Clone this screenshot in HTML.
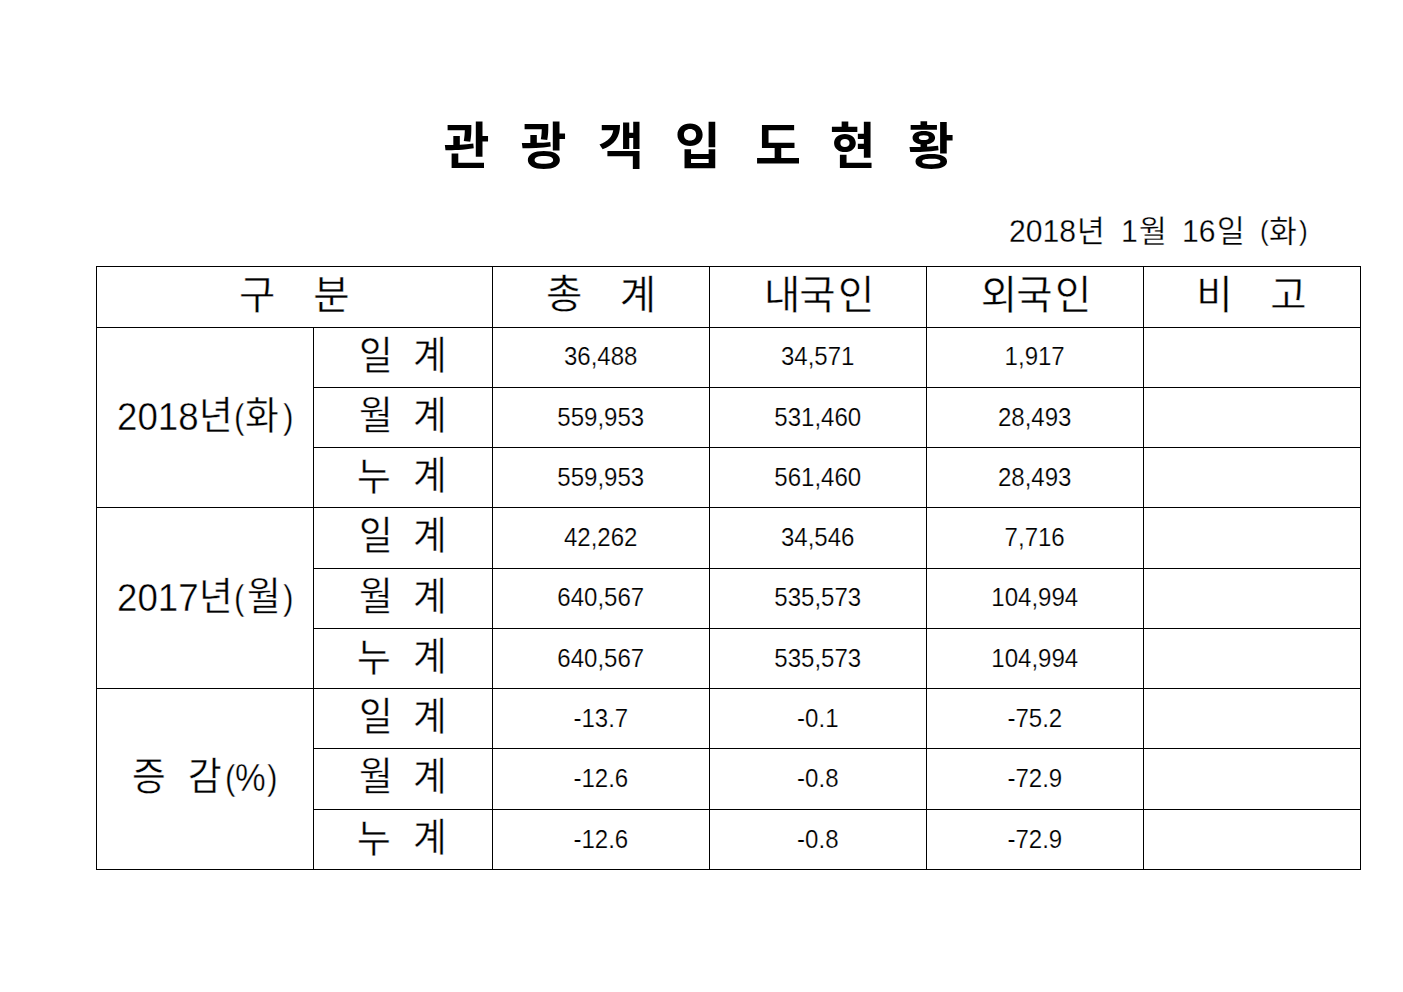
<!DOCTYPE html>
<html lang="ko"><head><meta charset="utf-8"><title>관광객 입도현황</title>
<style>
html,body{margin:0;padding:0;background:#fff}
body{position:relative;width:1403px;height:992px;overflow:hidden;font-family:"Liberation Sans","Noto Sans CJK KR",sans-serif;color:#000}
.t{position:absolute;display:block;white-space:nowrap;line-height:1;color:#000;transform-origin:0 0}
.dt{font-size:31.1px;transform:scaleX(0.97);-webkit-text-stroke:0.3px #fff}
.dp{font-size:27.6px;transform:scaleX(0.95);-webkit-text-stroke:0.3px #fff}
.lb{font-size:38.6px;transform:scaleX(0.95);-webkit-text-stroke:0.4px #fff}
.lp{font-size:35.1px;transform:scaleX(0.9);-webkit-text-stroke:0.4px #fff}
.pc{font-size:37.9px;transform:scaleX(0.91);-webkit-text-stroke:0.4px #fff}
.hd{font-size:39.5px;-webkit-text-stroke:0.4px #fff}
.tt{font-size:50px;font-weight:bold}
h1{position:absolute;left:0;top:0;margin:0;width:1403px;height:200px;font-size:52px;font-weight:bold}
.date{position:absolute;left:0;top:0;width:1403px;height:260px}
table{position:absolute;left:96px;top:266px;border-collapse:separate;border-spacing:0;border-top:1px solid #000;border-left:1px solid #000;table-layout:fixed;width:1265px}
th,td{position:relative;box-sizing:border-box;padding:0;margin:0;border-right:1px solid #000;border-bottom:1px solid #000;font-weight:normal;overflow:visible}
tr.r61>*{height:61px} tr.r60>*{height:60px}
td.n{-webkit-text-stroke:0.2px #fff;text-align:center;vertical-align:top;font-size:25.3px;line-height:1;color:#000}
td.n span{display:inline-block;transform:scaleX(0.95);transform-origin:50% 0}
col.a{width:217px} col.b{width:179px}
</style></head>
<body>
<h1 aria-label="관광객입도현황"><span class="t tt" style="left:443.5px;top:121.5px">관</span><span class="t tt" style="left:520.5px;top:121.5px">광</span><span class="t tt" style="left:598.1px;top:121.5px">객</span><span class="t tt" style="left:674.8px;top:121.5px">입</span><span class="t tt" style="left:754.9px;top:121.5px">도</span><span class="t tt" style="left:829.7px;top:121.5px">현</span><span class="t tt" style="left:908.1px;top:121.5px">황</span></h1>
<div class="date" aria-label="2018년 1월 16일 (화)"><span class="t dt" style="left:1009.19px;top:215.67px">2018</span><span class="t dt" style="left:1076.7px;top:215.67px">년</span><span class="t dt" style="left:1120.71px;top:215.67px">1</span><span class="t dt" style="left:1138.5px;top:215.67px">월</span><span class="t dt" style="left:1182.31px;top:215.67px">16</span><span class="t dt" style="left:1217.35px;top:215.67px">일</span><span class="t dp" style="left:1260.42px;top:216.84px">(</span><span class="t dt" style="left:1269.3px;top:215.9px">화</span><span class="t dp" style="left:1298.74px;top:216.84px">)</span></div>
<table>
<colgroup><col class="a"><col class="b"><col class="a"><col class="a"><col class="a"><col class="a"></colgroup>
<tr class="r61"><th colspan="2"><span class="t hd" style="left:141.9px;top:8.6px">구</span><span class="t hd" style="left:216.25px;top:8.6px">분</span></th><th><span class="t hd" style="left:53.1px;top:8.2px">총</span><span class="t hd" style="left:126.7px;top:8.6px">계</span></th><th><span class="t hd" style="left:54px;top:8.6px">내</span><span class="t hd" style="left:89.3px;top:8.6px">국</span><span class="t hd" style="left:128px;top:8.6px">인</span></th><th><span class="t hd" style="left:53.7px;top:8.6px">외</span><span class="t hd" style="left:89.3px;top:8.6px">국</span><span class="t hd" style="left:128px;top:8.6px">인</span></th><th><span class="t hd" style="left:52.3px;top:8.6px">비</span><span class="t hd" style="left:126.2px;top:8.6px">고</span></th></tr>
<tr class="r60"><th rowspan="3" class="yl"><span class="t lb" style="left:20.02px;top:70.33px">2018</span><span class="t lb" style="left:102.06px;top:69.2px">년</span><span class="t lp" style="left:137.34px;top:70.79px">(</span><span class="t lb" style="left:148.2px;top:69.2px">화</span><span class="t lp" style="left:185.71px;top:70.79px">)</span></th><th class="sl"><span class="t lb" style="left:45.05px;top:9.2px">일</span><span class="t lb" style="left:98.8px;top:9.2px">계</span></th><td class="n" style="padding-top:15.58px"><span>36,488</span></td><td class="n" style="padding-top:15.58px"><span>34,571</span></td><td class="n" style="padding-top:15.58px"><span>1,917</span></td><td></td></tr>
<tr class="r60"><th class="sl"><span class="t lb" style="left:44.66px;top:9.2px">월</span><span class="t lb" style="left:98.8px;top:9.2px">계</span></th><td class="n" style="padding-top:16.58px"><span>559,953</span></td><td class="n" style="padding-top:16.58px"><span>531,460</span></td><td class="n" style="padding-top:16.58px"><span>28,493</span></td><td></td></tr>
<tr class="r60"><th class="sl"><span class="t lb" style="left:43.2px;top:9.5px">누</span><span class="t lb" style="left:98.8px;top:9.2px">계</span></th><td class="n" style="padding-top:16.58px"><span>559,953</span></td><td class="n" style="padding-top:16.58px"><span>561,460</span></td><td class="n" style="padding-top:16.58px"><span>28,493</span></td><td></td></tr>
<tr class="r61"><th rowspan="3" class="yl"><span class="t lb" style="left:20.02px;top:71.33px">2017</span><span class="t lb" style="left:102.06px;top:70.2px">년</span><span class="t lp" style="left:137.34px;top:71.79px">(</span><span class="t lb" style="left:149.6px;top:70.2px">월</span><span class="t lp" style="left:185.71px;top:71.79px">)</span></th><th class="sl"><span class="t lb" style="left:45.05px;top:9.2px">일</span><span class="t lb" style="left:98.8px;top:9.2px">계</span></th><td class="n" style="padding-top:16.58px"><span>42,262</span></td><td class="n" style="padding-top:16.58px"><span>34,546</span></td><td class="n" style="padding-top:16.58px"><span>7,716</span></td><td></td></tr>
<tr class="r60"><th class="sl"><span class="t lb" style="left:44.66px;top:9.2px">월</span><span class="t lb" style="left:98.8px;top:9.2px">계</span></th><td class="n" style="padding-top:15.58px"><span>640,567</span></td><td class="n" style="padding-top:15.58px"><span>535,573</span></td><td class="n" style="padding-top:15.58px"><span>104,994</span></td><td></td></tr>
<tr class="r60"><th class="sl"><span class="t lb" style="left:43.2px;top:9.5px">누</span><span class="t lb" style="left:98.8px;top:9.2px">계</span></th><td class="n" style="padding-top:16.58px"><span>640,567</span></td><td class="n" style="padding-top:16.58px"><span>535,573</span></td><td class="n" style="padding-top:16.58px"><span>104,994</span></td><td></td></tr>
<tr class="r60"><th rowspan="3" class="yl"><span class="t lb" style="left:35.3px;top:68.8px">증</span><span class="t lb" style="left:90.9px;top:68.8px">감</span><span class="t lp" style="left:127.84px;top:70.79px">(</span><span class="t pc" style="left:138.47px;top:71.42px">%</span><span class="t lp" style="left:170.01px;top:70.79px">)</span></th><th class="sl"><span class="t lb" style="left:45.05px;top:9.2px">일</span><span class="t lb" style="left:98.8px;top:9.2px">계</span></th><td class="n" style="padding-top:16.58px"><span>-13.7</span></td><td class="n" style="padding-top:16.58px"><span>-0.1</span></td><td class="n" style="padding-top:16.58px"><span>-75.2</span></td><td></td></tr>
<tr class="r61"><th class="sl"><span class="t lb" style="left:44.66px;top:9.2px">월</span><span class="t lb" style="left:98.8px;top:9.2px">계</span></th><td class="n" style="padding-top:16.58px"><span>-12.6</span></td><td class="n" style="padding-top:16.58px"><span>-0.8</span></td><td class="n" style="padding-top:16.58px"><span>-72.9</span></td><td></td></tr>
<tr class="r60"><th class="sl"><span class="t lb" style="left:43.2px;top:9.5px">누</span><span class="t lb" style="left:98.8px;top:9.2px">계</span></th><td class="n" style="padding-top:16.58px"><span>-12.6</span></td><td class="n" style="padding-top:16.58px"><span>-0.8</span></td><td class="n" style="padding-top:16.58px"><span>-72.9</span></td><td></td></tr>
</table>
</body></html>
